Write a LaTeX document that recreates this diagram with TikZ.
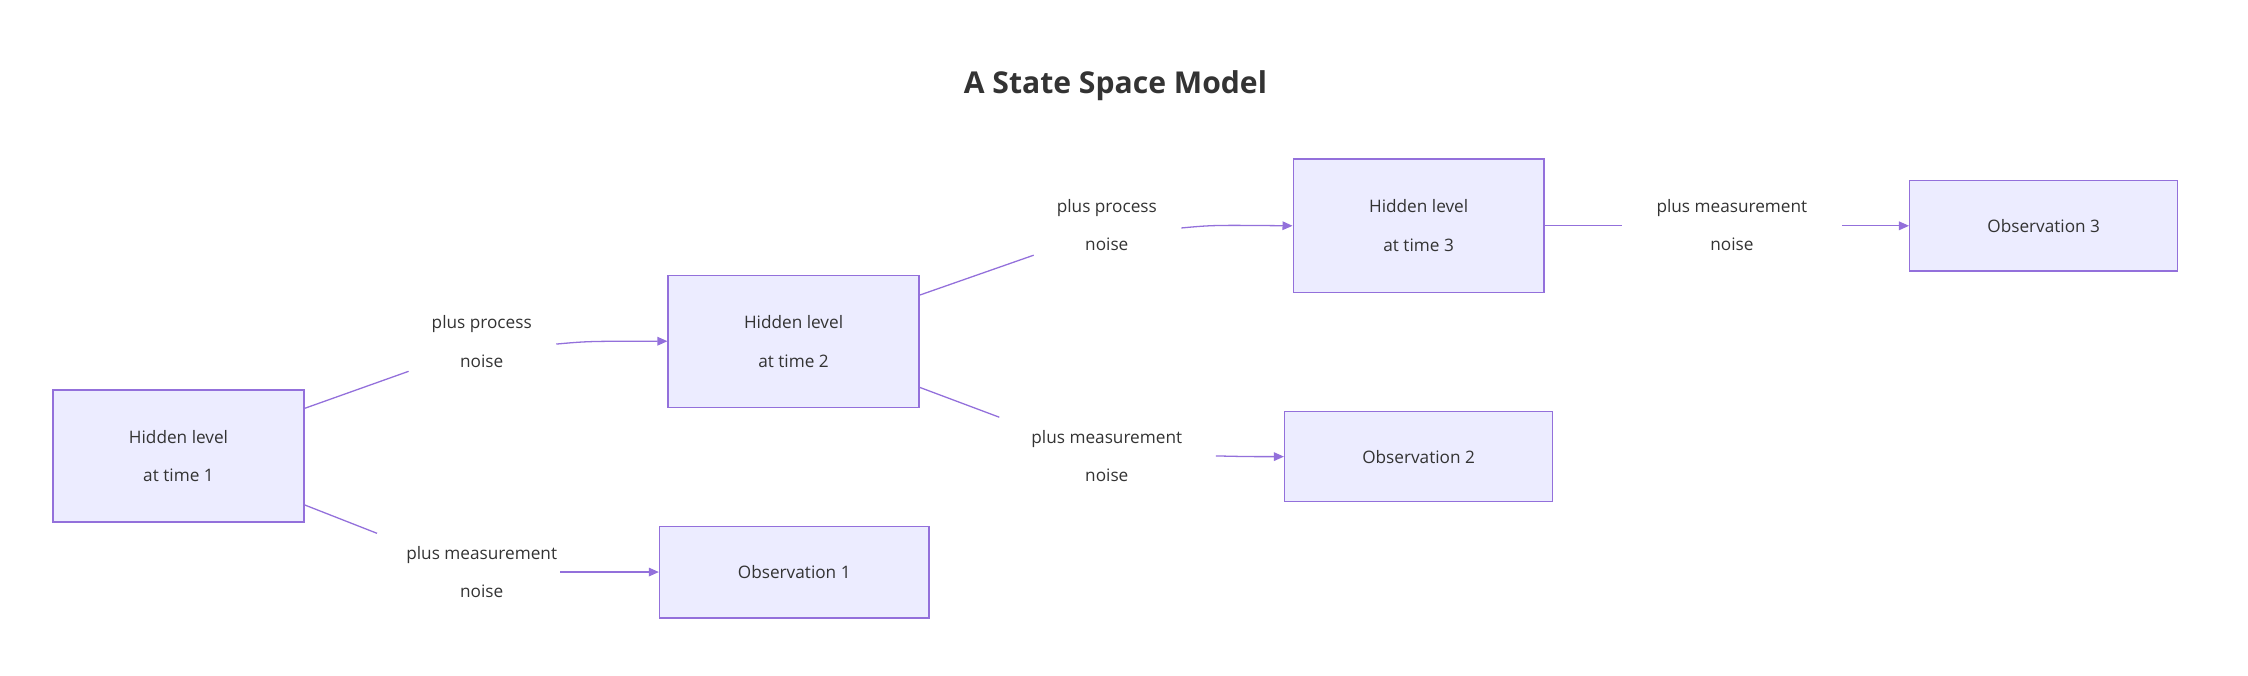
\documentclass[tikz,border=0pt]{standalone}
\usepackage{fontspec}
\setmainfont{Open Sans}
\usetikzlibrary{arrows.meta}
\definecolor{nf}{HTML}{ECECFF}
\definecolor{ns}{HTML}{9370DB}
\definecolor{tx}{HTML}{333333}
\begin{document}
\begin{tikzpicture}[x=1pt,y=-1pt,
  box/.style={draw=ns,fill=nf,line width=0.9pt,minimum height=#1,text=tx,font=\fontsize{12}{27}\selectfont,align=center,inner sep=0pt},
  lab/.style={text=tx,font=\fontsize{12}{27}\selectfont,align=center,inner sep=2pt},
  ln/.style={draw=ns,line width=0.9pt},
  ar/.style={ln,-{Triangle[length=7pt,width=6pt]}}]
\useasboundingbox (0,0) rectangle (1568,471);
\node[text=tx,font=\fontsize{21}{25}\selectfont\bfseries] (t) at (778,60) {A State Space Model};
\node[box=92pt,minimum width=175pt] (h1) at (124.5,318) {Hidden level\\at time 1};
\node[box=92pt,minimum width=175pt] (h2) at (553.5,238) {Hidden level\\at time 2};
\node[box=93pt,minimum width=175pt] (h3) at (989.5,157.5) {Hidden level\\at time 3};
\node[box=64pt,minimum width=188pt] (o1) at (554,399) {Observation 1};
\node[box=63pt,minimum width=187pt] (o2) at (989.5,318.5) {Observation 2};
\node[box=63pt,minimum width=187pt] (o3) at (1425.5,157.5) {Observation 3};
\node[lab] (l1) at (336,238) {plus process\\noise};
\node[lab] (l2) at (336,399) {plus measurement\\noise};
\node[lab] (l3) at (772,157) {plus process\\noise};
\node[lab] (l4) at (772,318) {plus measurement\\noise};
\node[lab] (l5) at (1208,157) {plus measurement\\noise};
\coordinate (a1) at (285,259); \coordinate (b1) at (388,240);
\draw[ln] (212,285) -- (a1);
\draw[ar] (b1) .. controls (410,238) .. (h2.west);
\coordinate (a2) at (263,372);
\draw[ln] (212,352) -- (a2);
\draw[ar] (l2.east |- o1.west) -- (o1.west);
\coordinate (a3) at (721,178); \coordinate (b3) at (824,159);
\draw[ln] (641,206) -- (a3);
\draw[ar] (b3) .. controls (846,157) .. (h3.west);
\coordinate (a4) at (697,291);
\draw[ln] (641,270) -- (a4);
\draw[ar] (848,318) .. controls (870,318.5) .. (o2.west);
\draw[ln] (h3.east) -- (1131,157.5);
\draw[ar] (1285,157.5) -- (o3.west);
\end{tikzpicture}
\end{document}
